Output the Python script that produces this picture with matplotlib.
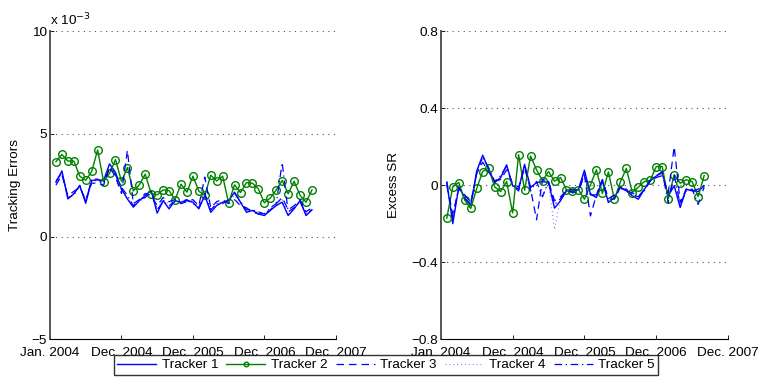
import matplotlib
matplotlib.use("Agg")
import matplotlib.pyplot as plt

plt.rcParams['font.family'] = ['Liberation Sans', 'DejaVu Sans']
plt.rcParams['font.size'] = 9.7

# Monate seit Jan. 2004
monate = list(range(1, 45))
tick_pos = [0, 12, 24, 36, 48]
tick_labels = ["Jan. 2004", "Dec. 2004", "Dec. 2005", "Dec. 2006", "Dec. 2007"]

# Tracking Errors (in 1e-3)
te_1 = [2.65, 3.2, 1.83, 2.08, 2.48, 1.62, 2.73, 2.76, 2.73, 3.54, 3.13, 2.32, 1.83, 1.43, 1.75,
        2.0, 2.24, 1.14, 1.75, 1.35, 1.75, 1.67, 1.75, 1.67, 1.35, 2.0, 1.18, 1.51, 1.67, 1.75,
        2.16, 1.67, 1.18, 1.27, 1.1, 1.02, 1.27, 1.51, 1.67, 1.02, 1.35, 1.75, 1.02, 1.3]
te_2 = [3.65, 4.0, 3.68, 3.68, 2.94, 2.74, 3.17, 4.22, 2.68, 3.08, 3.75, 2.69, 3.36, 2.22, 2.52,
        3.04, 2.08, 2.03, 2.27, 2.24, 1.79, 2.55, 2.16, 2.94, 2.21, 2.0, 2.99, 2.71, 2.94, 1.64,
        2.52, 2.14, 2.63, 2.6, 2.32, 1.64, 1.88, 2.27, 2.73, 2.08, 2.69, 2.01, 1.67, 2.27]
te_3 = [2.5, 3.0, 2.0, 2.2, 2.4, 1.8, 2.6, 2.6, 2.5, 3.4, 2.9, 2.1, 4.2, 1.6, 1.8,
        2.1, 2.0, 1.5, 1.9, 1.7, 1.8, 1.6, 1.7, 1.8, 1.5, 2.9, 1.4, 1.7, 1.8, 1.6,
        1.8, 1.5, 1.4, 1.2, 1.1, 1.1, 1.3, 1.6, 1.9, 1.3, 1.5, 1.8, 1.2, 1.4]
te_4 = [2.6, 3.1, 1.9, 2.1, 2.4, 1.7, 2.7, 2.7, 2.6, 3.5, 3.0, 2.2, 1.9, 1.5, 1.7,
        1.9, 2.1, 1.3, 1.8, 1.6, 1.7, 1.7, 1.8, 1.7, 1.5, 1.9, 1.3, 1.6, 1.7, 1.7,
        2.0, 1.6, 1.3, 1.3, 1.2, 1.1, 1.3, 1.5, 1.8, 1.1, 1.4, 1.7, 1.1, 1.3]
te_5 = [2.7, 3.1, 1.9, 2.0, 2.5, 1.7, 2.8, 2.8, 2.6, 3.3, 3.0, 2.4, 2.0, 1.5, 1.8,
        1.9, 2.2, 1.3, 1.7, 1.5, 1.7, 1.7, 1.8, 1.6, 1.4, 2.1, 1.3, 1.6, 1.6, 1.8,
        2.1, 1.7, 1.3, 1.3, 1.2, 1.1, 1.4, 1.6, 3.6, 1.2, 1.4, 1.7, 1.1, 1.3]

# Excess SR
sr_1 = [0.014, -0.2, -0.01, -0.064, -0.107, 0.074, 0.156, 0.083, 0.014, 0.04, 0.106, -0.003, -0.021,
        0.109, -0.012, 0.014, 0.019, 0.014, -0.119, -0.081, -0.029, -0.033, -0.021, 0.078, -0.047,
        -0.064, 0.023, -0.09, -0.064, -0.012, -0.029, -0.055, -0.073, -0.021, 0.023, 0.048, 0.066,
        -0.055, -0.003, -0.116, -0.021, -0.029, -0.033, -0.003]
sr_2 = [-0.171, -0.009, 0.014, -0.078, -0.121, -0.017, 0.071, 0.09, -0.009, -0.033, 0.019, -0.144,
        0.159, -0.026, 0.152, 0.08, 0.023, 0.071, 0.021, 0.04, -0.023, -0.029, -0.023, -0.073, 0.002,
        0.08, -0.043, 0.069, -0.073, 0.017, 0.087, -0.038, -0.01, 0.019, 0.026, 0.097, 0.097, -0.071,
        0.055, 0.01, 0.029, 0.019, -0.059, 0.05]
sr_3 = [0.0, -0.15, -0.02, -0.05, -0.09, 0.06, 0.12, 0.07, 0.02, 0.03, 0.08, 0.01, -0.01,
        0.09, -0.02, -0.18, 0.03, 0.02, -0.08, -0.06, -0.03, -0.02, -0.03, 0.05, -0.16,
        -0.05, 0.03, -0.07, -0.05, -0.01, -0.03, -0.04, -0.06, -0.02, 0.02, 0.04, 0.05,
        -0.04, 0.2, -0.09, -0.02, -0.03, -0.02, 0.0]
sr_4 = [0.01, -0.18, 0.0, -0.06, -0.1, 0.07, 0.14, 0.08, 0.01, 0.03, 0.1, 0.0, -0.02,
        0.1, -0.01, 0.01, -0.05, 0.01, -0.23, -0.07, -0.03, -0.03, -0.02, 0.07, -0.04,
        -0.06, 0.02, -0.08, -0.06, -0.01, -0.03, -0.05, -0.07, -0.02, 0.02, 0.04, 0.06,
        -0.05, 0.0, -0.1, -0.02, -0.03, -0.03, 0.0]
sr_5 = [0.02, -0.17, -0.01, -0.07, -0.1, 0.06, 0.15, 0.09, 0.02, 0.05, 0.1, 0.0, -0.03,
        0.1, -0.03, 0.02, -0.06, 0.02, -0.1, -0.07, -0.02, -0.04, -0.03, 0.06, -0.05,
        -0.05, 0.03, -0.08, -0.07, -0.02, -0.02, -0.05, -0.06, -0.03, 0.03, 0.05, 0.07,
        -0.09, 0.05, -0.1, -0.03, -0.02, -0.1, -0.01]

blau = "#0000ff"
gruen = "#008000"


def zeichne(ax, s1, s2, s3, s4, s5):
    ax.plot(monate, s1, color=blau, lw=1.0, label="Tracker 1")
    ax.plot(monate, s2, color=gruen, lw=1.0, marker="o", ms=5.5, mfc="none", mew=1.0, label="Tracker 2")
    ax.plot(monate, s3, color=blau, lw=0.9, ls=(0, (6, 4)), label="Tracker 3")
    ax.plot(monate, s4, color=blau, lw=0.7, ls=(0, (1, 3)), alpha=0.6, label="Tracker 4")
    ax.plot(monate, s5, color=blau, lw=0.9, ls=(0, (6, 3, 1, 3)), label="Tracker 5")
    ax.set_xlim(0, 48)
    ax.set_xticks(tick_pos)
    ax.set_xticklabels(tick_labels)
    for side in ["top", "right"]:
        ax.spines[side].set_visible(False)
    ax.spines["left"].set_color("#555555")
    ax.spines["left"].set_linewidth(1.4)
    ax.spines["bottom"].set_linewidth(0.8)
    ax.tick_params(direction="in", length=3, width=0.6, pad=2)
    ax.tick_params(axis="x", pad=5.5)
    ax.yaxis.grid(True, ls=(0, (1, 4)), color="#555555", lw=0.8)
    ax.set_axisbelow(True)


fig = plt.figure(figsize=(7.6, 3.78), dpi=100)
ax1 = fig.add_axes([0.0658, 0.103, 0.376, 0.814])
ax2 = fig.add_axes([0.580, 0.103, 0.378, 0.814])

zeichne(ax1, te_1, te_2, te_3, te_4, te_5)
ax1.set_ylim(-5, 10)
ax1.set_yticks([-5, 0, 5, 10])
ax1.set_ylabel("Tracking Errors", labelpad=8)
ax1.text(0.0, 1.01, r"x 10$^{-3}$", transform=ax1.transAxes, ha="left", va="bottom")

zeichne(ax2, sr_1, sr_2, sr_3, sr_4, sr_5)
ax2.set_ylim(-0.8, 0.8)
ax2.set_yticks([-0.8, -0.4, 0, 0.4, 0.8])
ax2.set_yticklabels(["\u22120.8", "\u22120.4", "0", "0.4", "0.8"])
ax2.set_ylabel("Excess SR", labelpad=8)

handles, labels = ax1.get_legend_handles_labels()
leg = fig.legend(handles, labels, ncol=5, loc="center", bbox_to_anchor=(386 / 760, 1 - 365 / 378),
                 frameon=True, fancybox=False, handlelength=2.9, columnspacing=0.6,
                 handletextpad=0.4, borderpad=0.25, borderaxespad=0, markerscale=0.6)
leg.get_frame().set_edgecolor("black")
leg.get_frame().set_linewidth(1.0)

plt.savefig("out.png", dpi=100)
